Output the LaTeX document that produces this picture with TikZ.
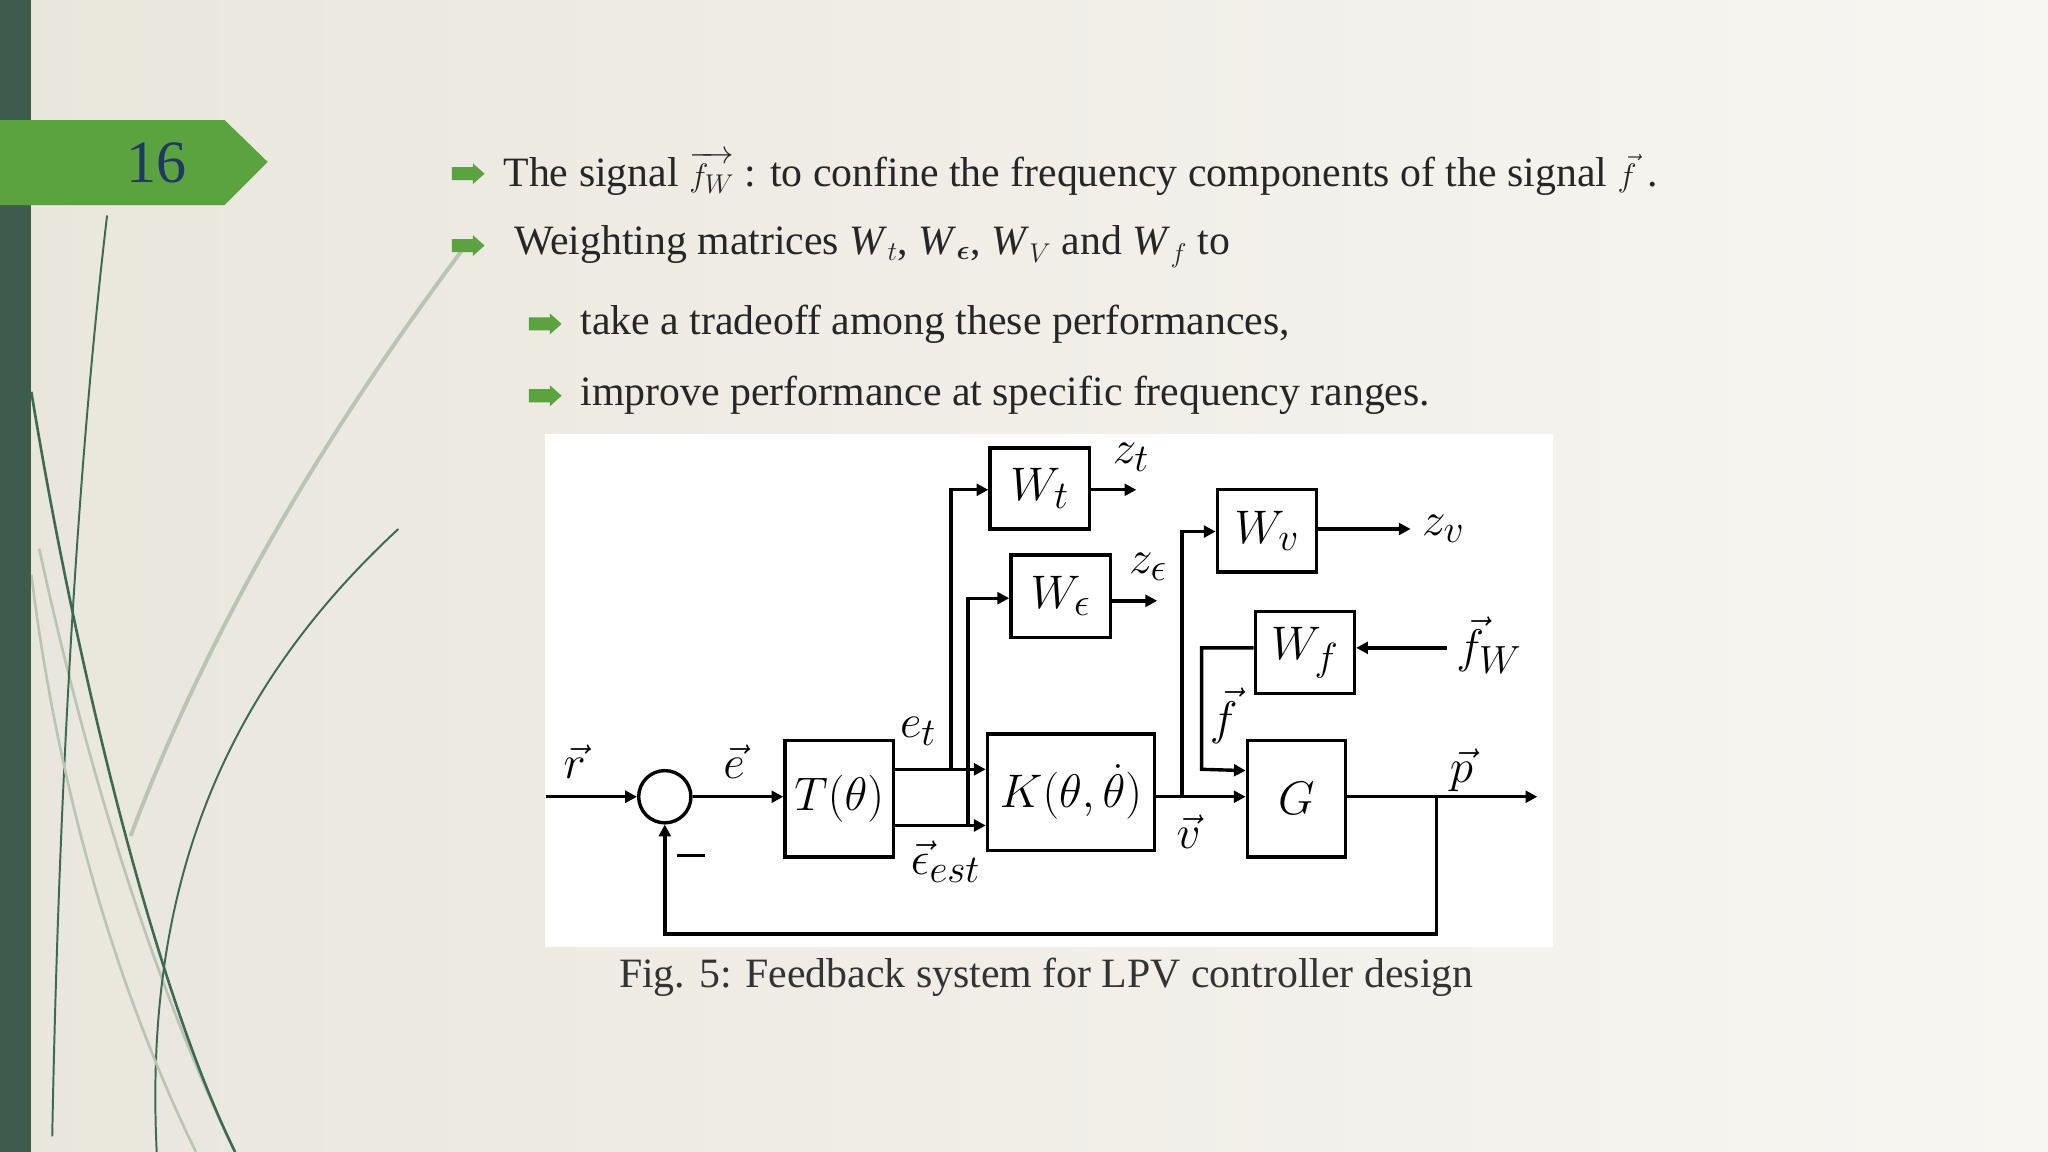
\documentclass[tikz,border=0pt]{standalone}
\usepackage{graphicx}
\usepackage{amsmath,bm}
\usepackage{fontspec}
\setmainfont{Liberation Serif}
\usetikzlibrary{arrows.meta}
\newcommand{\dlab}[1]{\scalebox{1.45}{$#1$}}
\definecolor{bgA}{HTML}{E9E6DC}
\definecolor{bgB}{HTML}{F7F6F2}
\definecolor{tabg}{HTML}{5AA33F}
\definecolor{barg}{HTML}{3E5C4D}
\definecolor{numb}{HTML}{1F3864}
\definecolor{leaf}{HTML}{3E6B4F}
\definecolor{leafl}{HTML}{B9C4B2}
\begin{document}
\begin{tikzpicture}[x=1pt,y=-1pt,
  blk/.style={draw,line width=2.6pt,minimum width=#1,inner sep=0pt},
  arr/.style={line width=2.6pt,-{Triangle[length=9pt,width=9pt]}},
  lab/.style={font=\fontsize{24.88}{28}\selectfont},
  txt/.style={font=\fontsize{32}{34}\selectfont,anchor=west,text=black!85},
  bul/.style={fill=tabg}]
\useasboundingbox (0,0) rectangle (1568,882);
\shade[left color=bgA,right color=bgB] (0,0) rectangle (1568,882);
% decorative leaves
\draw[leafl,line width=2pt] (30,420) .. controls (80,650) and (140,800) .. (180,882);
\draw[leafl,line width=3pt] (100,640) .. controls (160,480) and (250,330) .. (355,190);
\draw[leaf,line width=1.5pt] (40,870) .. controls (45,600) and (60,350) .. (82,165);
\draw[leaf,line width=2pt] (24,300) .. controls (60,520) and (120,760) .. (180,882);
\draw[leaf,line width=1.5pt] (120,882) .. controls (110,680) and (170,530) .. (305,405);
\draw[leafl,line width=2pt] (24,440) .. controls (50,650) and (110,800) .. (150,882);
\fill[barg] (0,0) rectangle (24,882);
\fill[tabg] (0,92) -- (172,92) -- (205,124) -- (172,157) -- (0,157) -- cycle;
\node[font=\fontsize{46}{48}\selectfont,text=numb] (num) at (120,125) {16};
% bullets
\foreach \bx/\by in {358/133,358/188,417/248,417/303}
  \fill[bul] (\bx-12,\by-5) rectangle (\bx+4,\by+5) (\bx+4,\by-8) -- (\bx+13,\by) -- (\bx+4,\by+8) -- cycle;
\node[txt] (t1) at (382,133) {The signal $\overrightarrow{f_{W}}$ : to confine the frequency components of the signal $\vec f$ .};
\node[txt] (t2) at (390,189) {Weighting matrices \textit{W}$_t$, \textit{W}$_{\bm\epsilon}$, \textit{W}$_V$ and \textit{W}$_f$ to};
\node[txt] (t3) at (441,248) {take a tradeoff among these performances,};
\node[txt] (t4) at (441,303) {improve performance at specific frequency ranges.};
% diagram
\fill[white] (417,332) rectangle (1189,725);
\coordinate (rin) at (418,610);
\node[draw,circle,line width=2.6pt,minimum size=40pt,inner sep=0pt] (sum) at (509,610) {};
\node[blk=83pt,minimum height=89pt,lab] (T) at (642.5,611.5) {\dlab{T(\theta)}};
\node[blk=128pt,minimum height=89pt,lab] (K) at (820,606.5) {\dlab{K(\theta,\dot\theta)}};
\node[blk=76pt,minimum height=62pt,lab] (Wt) at (796,374) {\dlab{W_t}};
\node[blk=76pt,minimum height=63pt,lab] (We) at (812,456.5) {\dlab{W_\epsilon}};
\node[blk=76pt,minimum height=63pt,lab] (Wv) at (970,406.5) {\dlab{W_v}};
\node[blk=76pt,minimum height=63pt,lab] (Wf) at (999,499.5) {\dlab{W_f}};
\node[blk=75pt,minimum height=89pt,lab] (G) at (992.5,611.5) {\dlab{G}};
\coordinate (zt) at (870,375);
\coordinate (ze) at (886,460);
\coordinate (zv) at (1080,405);
\coordinate (fw) at (1108,496);
\coordinate (pout) at (1177,610);
\coordinate (fb) at (1100,610);
\draw[arr] (rin) -- (sum.west);
\draw[arr] (sum.east) -- (T.west |- sum);
\draw[arr] (T.east |- 0,589) -- (K.west |- 0,589);
\draw[arr] (T.east |- 0,632) -- (K.west |- 0,632);
\draw[arr] (728,589) -- (728,375) -- (Wt.west |- 0,375);
\draw[arr] (741,632) -- (741,458) -- (We.west |- 0,458);
\draw[arr] (Wt.east |- zt) -- (zt);
\draw[arr] (We.east |- ze) -- (ze);
\draw[arr] (K.east |- 0,610) -- (G.west |- 0,610);
\draw[arr] (905,610) -- (905,407) -- (Wv.west |- 0,407);
\draw[arr] (Wv.east |- zv) -- (zv);
\draw[arr] (fw) -- (Wf.east |- fw);
\draw[arr] (Wf.west |- 0,496) -- (920,496) -- (920,589) -- (G.west |- 0,590);
\draw[arr] (G.east |- pout) -- (pout);
\draw[arr] (fb) -- (1100,715) -- (509,715) -- (sum.south);
\node[lab] (lr) at (440,583) {\dlab{\vec r}};
\node[lab] (le) at (562,583) {\dlab{\vec e}};
\node[lab] (let) at (703,560) {\dlab{e_t}};
\node[lab] (lee) at (724,660) {\dlab{\vec\epsilon_{est}}};
\node[lab] (lzt) at (866,350) {\dlab{z_t}};
\node[lab] (lze) at (879,434) {\dlab{z_\epsilon}};
\node[lab] (lzv) at (1105,405) {\dlab{z_v}};
\node[lab] (lfw) at (1140,494) {\dlab{\vec f_W}};
\node[lab] (lf) at (937,548) {\dlab{\vec f}};
\node[lab] (lv) at (910,637) {\dlab{\vec v}};
\node[lab] (lp) at (1119,590) {\dlab{\vec p}};
\draw[line width=2.6pt] (518,655) -- (540,655);
\node[font=\fontsize{32}{34}\selectfont,text=black!80] (cap) at (801,748) {Fig. 5: Feedback system for LPV controller design};
\end{tikzpicture}
\end{document}
